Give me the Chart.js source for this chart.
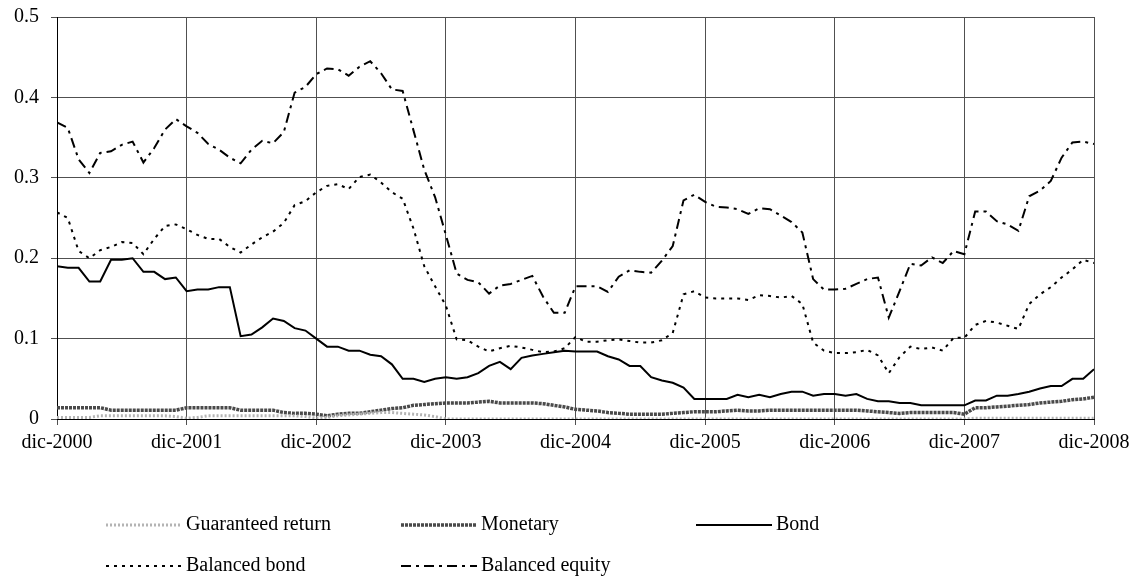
<!DOCTYPE html>
<html>
<head>
<meta charset="utf-8">
<script src="https://cdn.jsdelivr.net/npm/chart.js@4.4.1/dist/chart.umd.min.js"></script>
<style>
  html, body { margin: 0; padding: 0; background: #fff; }
  #wrap { width: 1141px; height: 585px; position: relative; }
</style>
</head>
<body>
<div id="wrap"><canvas id="fundsChart" width="1141" height="585"></canvas></div>
<script>
// Monthly observations, dic-2000 .. dic-2008 (97 months)
const yearLabels = ['dic-2000', 'dic-2001', 'dic-2002', 'dic-2003', 'dic-2004',
  'dic-2005', 'dic-2006', 'dic-2007', 'dic-2008'];

const guaranteedReturn = [
  0.002, 0.002, 0.002, 0.002, 0.004, 0.004, 0.004, 0.004, 0.004, 0.004, 0.004, 0.003,
  0.001, 0.002, 0.004, 0.004, 0.004, 0.004, 0.004, 0.004, 0.004, 0.004, 0.004, 0.003,
  0.001, 0.002, 0.004, 0.005, 0.006, 0.007, 0.008, 0.008, 0.007, 0.006, 0.005, 0.003,
  0, 0, 0, 0, 0, 0, 0, 0, 0, 0, 0, 0,
  0, 0, 0, 0, 0, 0, 0, 0, 0, 0, 0, 0,
  0, 0, 0, 0, 0, 0, 0, 0, 0, 0, 0, 0,
  0, 0, 0, 0, 0, 0, 0, 0, 0, 0, 0, 0,
  0, 0.001, 0.001, 0.001, 0.001, 0.001, 0.001, 0.001, 0.001, 0.001, 0.001, 0.001,
  0.001
];

const monetary = [
  0.014, 0.014, 0.014, 0.014, 0.014, 0.011, 0.011, 0.011, 0.011, 0.011, 0.011, 0.011,
  0.014, 0.014, 0.014, 0.014, 0.014, 0.011, 0.011, 0.011, 0.011, 0.008, 0.007, 0.007,
  0.006, 0.004, 0.006, 0.007, 0.007, 0.009, 0.011, 0.013, 0.014, 0.017, 0.018, 0.019,
  0.020, 0.020, 0.020, 0.021, 0.022, 0.020, 0.020, 0.020, 0.020, 0.019, 0.017, 0.015,
  0.012, 0.011, 0.010, 0.008, 0.007, 0.006, 0.006, 0.006, 0.006, 0.007, 0.008, 0.009,
  0.009, 0.009, 0.010, 0.011, 0.010, 0.010, 0.011, 0.011, 0.011, 0.011, 0.011, 0.011,
  0.011, 0.011, 0.011, 0.010, 0.009, 0.008, 0.007, 0.008, 0.008, 0.008, 0.008, 0.008,
  0.006, 0.014, 0.014, 0.015, 0.016, 0.017, 0.018, 0.020, 0.021, 0.022, 0.024, 0.025,
  0.027
];

const bond = [
  0.190, 0.188, 0.188, 0.171, 0.171, 0.198, 0.198, 0.200, 0.183, 0.183, 0.174, 0.176,
  0.159, 0.161, 0.161, 0.164, 0.164, 0.103, 0.105, 0.114, 0.125, 0.122, 0.113, 0.110,
  0.100, 0.090, 0.090, 0.085, 0.085, 0.080, 0.078, 0.068, 0.050, 0.050, 0.046, 0.050,
  0.052, 0.050, 0.052, 0.057, 0.066, 0.071, 0.062, 0.076, 0.079, 0.081, 0.083, 0.085,
  0.084, 0.084, 0.084, 0.078, 0.074, 0.066, 0.066, 0.052, 0.048, 0.045, 0.039, 0.025,
  0.025, 0.025, 0.025, 0.030, 0.027, 0.030, 0.027, 0.031, 0.034, 0.034, 0.029, 0.031,
  0.031, 0.029, 0.031, 0.025, 0.022, 0.022, 0.020, 0.020, 0.017, 0.017, 0.017, 0.017,
  0.017, 0.023, 0.023, 0.029, 0.029, 0.031, 0.034, 0.038, 0.041, 0.041, 0.050, 0.050,
  0.062
];

const balancedBond = [
  0.257, 0.250, 0.209, 0.200, 0.210, 0.214, 0.220, 0.219, 0.205, 0.224, 0.240, 0.242,
  0.236, 0.229, 0.224, 0.224, 0.214, 0.207, 0.217, 0.226, 0.233, 0.244, 0.266, 0.271,
  0.282, 0.290, 0.292, 0.286, 0.301, 0.304, 0.294, 0.282, 0.274, 0.237, 0.190, 0.165,
  0.141, 0.099, 0.098, 0.090, 0.084, 0.088, 0.091, 0.089, 0.086, 0.083, 0.084, 0.088,
  0.102, 0.096, 0.096, 0.098, 0.099, 0.097, 0.095, 0.095, 0.098, 0.107, 0.155, 0.159,
  0.151, 0.150, 0.150, 0.150, 0.148, 0.154, 0.153, 0.151, 0.153, 0.143, 0.095, 0.085,
  0.082, 0.082, 0.083, 0.086, 0.079, 0.057, 0.077, 0.090, 0.087, 0.089, 0.085, 0.101,
  0.101, 0.117, 0.122, 0.120, 0.116, 0.112, 0.143, 0.155, 0.164, 0.176, 0.186, 0.198,
  0.194
];

const balancedEquity = [
  0.369, 0.362, 0.323, 0.306, 0.331, 0.333, 0.341, 0.345, 0.319, 0.337, 0.360, 0.373,
  0.364, 0.356, 0.342, 0.335, 0.325, 0.318, 0.335, 0.346, 0.343, 0.357, 0.406, 0.413,
  0.429, 0.436, 0.435, 0.427, 0.438, 0.445, 0.430, 0.410, 0.408, 0.359, 0.310, 0.276,
  0.229, 0.181, 0.173, 0.170, 0.156, 0.166, 0.168, 0.173, 0.178, 0.152, 0.132, 0.132,
  0.165, 0.165, 0.165, 0.158, 0.177, 0.185, 0.183, 0.182, 0.197, 0.215, 0.272, 0.279,
  0.270, 0.264, 0.263, 0.261, 0.255, 0.262, 0.261, 0.253, 0.245, 0.232, 0.174, 0.161,
  0.161, 0.162, 0.168, 0.174, 0.176, 0.126, 0.159, 0.193, 0.191, 0.201, 0.194, 0.209,
  0.205, 0.258, 0.258, 0.246, 0.242, 0.234, 0.277, 0.284, 0.296, 0.325, 0.344, 0.345,
  0.342
];

const seriesNames = ['Guaranteed return', 'Monetary', 'Bond', 'Balanced bond', 'Balanced equity'];

const FONT = '"Liberation Serif", "Times New Roman", serif';

// turn a value list into {x: month index, y}
function toPoints(values) {
  return values.map((v, i) => ({ x: i, y: v }));
}

// legend laid out in two rows like the original
const legendSlots = [
  { x: 106, y: 525 }, { x: 401, y: 525 }, { x: 696, y: 525 },
  { x: 106, y: 566 }, { x: 401, y: 566 }
];

const rowLegend = {
  id: 'rowLegend',
  afterDraw(chart) {
    const ctx = chart.ctx;
    ctx.save();
    chart.data.datasets.forEach((ds, i) => {
      const slot = legendSlots[i];
      ctx.beginPath();
      ctx.strokeStyle = ds.borderColor;
      ctx.lineWidth = ds.borderWidth;
      ctx.setLineDash(ds.borderDash || []);
      ctx.moveTo(slot.x, slot.y);
      ctx.lineTo(slot.x + 76, slot.y);
      ctx.stroke();
      ctx.setLineDash([]);
      ctx.fillStyle = '#000';
      ctx.font = '20px ' + FONT;
      ctx.textBaseline = 'middle';
      ctx.fillText(ds.label, slot.x + 80, slot.y);
    });
    ctx.restore();
  }
};

const ctx = document.getElementById('fundsChart').getContext('2d');
new Chart(ctx, {
  type: 'line',
  data: {
    datasets: [
      { label: seriesNames[0], data: toPoints(guaranteedReturn), borderColor: '#b4b4b4', borderWidth: 3, borderDash: [2, 2] },
      { label: seriesNames[1], data: toPoints(monetary), borderColor: '#4a4a4a', borderWidth: 3.5, borderDash: [3, 1] },
      { label: seriesNames[2], data: toPoints(bond), borderColor: '#000', borderWidth: 2 },
      { label: seriesNames[3], data: toPoints(balancedBond), borderColor: '#000', borderWidth: 2, borderDash: [3, 5] },
      { label: seriesNames[4], data: toPoints(balancedEquity), borderColor: '#000', borderWidth: 2, borderDash: [10, 5, 3, 5] }
    ]
  },
  options: {
    responsive: false,
    animation: false,
    layout: { padding: { left: 0, right: 47, top: 17, bottom: 120 } },
    elements: { point: { radius: 0 }, line: { tension: 0, fill: false } },
    plugins: { legend: { display: false }, tooltip: { enabled: false } },
    scales: {
      x: {
        type: 'linear',
        min: 0,
        max: 96,
        afterFit: s => { s.height = 46; s.paddingLeft = 0; s.paddingRight = 0; },
        afterBuildTicks: s => { s.ticks = yearLabels.map((_, i) => ({ value: i * 12 })); },
        ticks: {
          autoSkip: false,
          maxRotation: 0,
          padding: 6,
          color: '#000',
          font: { family: FONT, size: 20 },
          callback: v => yearLabels[v / 12]
        },
        grid: { color: '#505050', lineWidth: 1, tickLength: 6 },
        border: { color: '#000', width: 1 }
      },
      y: {
        min: 0,
        max: 0.5,
        afterFit: s => { s.width = 57; s.paddingTop = 0; s.paddingBottom = 0; },
        ticks: {
          stepSize: 0.1,
          padding: 12,
          color: '#000',
          font: { family: FONT, size: 20 }
        },
        grid: { color: '#505050', lineWidth: 1, tickLength: 6 },
        border: { color: '#000', width: 1 }
      }
    }
  },
  plugins: [rowLegend]
});
</script>
</body>
</html>
